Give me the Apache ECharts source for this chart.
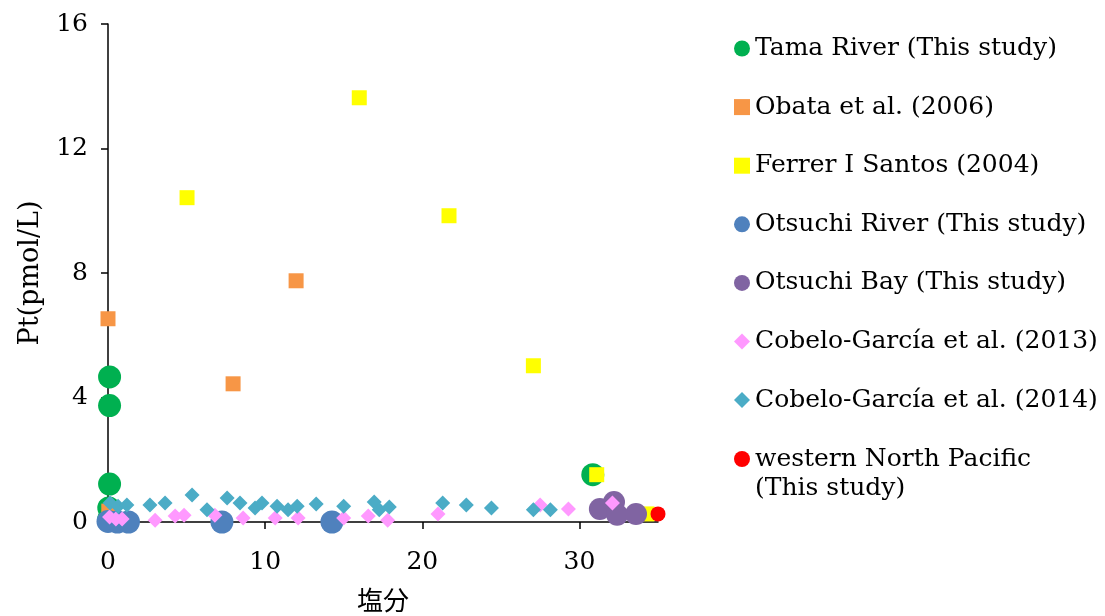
<!DOCTYPE html>
<html>
<head>
<meta charset="utf-8">
<script src="https://cdn.jsdelivr.net/npm/echarts@6/dist/echarts.min.js"></script>
<style>
  html, body { margin: 0; padding: 0; background: #fff; }
  #chart { width: 1105px; height: 616px; }
</style>
</head>
<body>
<div id="chart"></div>
<script>
// Dissolved platinum vs. salinity, [salinity, Pt (pmol/L)]
const tamaRiver = [[0.1, 4.66], [0.1, 3.74], [0.1, 1.22], [0.05, 0.45], [0.05, 0.1], [30.85, 1.52]];
const obata2006 = [[0.0, 6.53], [7.96, 4.44], [11.97, 7.75], [0.05, 0.35]];
const ferrer2004 = [[5.03, 10.42], [15.99, 13.63], [21.7, 9.84], [27.07, 5.02], [31.1, 1.52], [34.3, 0.26]];
const otsuchiRiver = [[0.0, 0.02], [0.6, 0.0], [1.3, 0.0], [7.25, 0.0], [14.25, 0.0]];
const otsuchiBay = [[31.3, 0.42], [32.2, 0.64], [32.4, 0.23], [33.6, 0.26]];
const cobelo2013 = [[0.1, 0.16], [0.5, 0.1], [0.9, 0.1], [3.0, 0.06], [4.27, 0.19], [4.84, 0.22],
  [6.8, 0.22], [8.6, 0.13], [10.64, 0.13], [12.1, 0.13], [15.0, 0.13], [16.56, 0.19], [17.8, 0.06],
  [21.0, 0.26], [27.5, 0.55], [29.3, 0.42], [32.1, 0.61]];
const cobelo2014 = [[0.13, 0.61], [0.64, 0.51], [1.2, 0.55], [2.67, 0.55], [3.63, 0.61], [5.35, 0.87],
  [6.3, 0.39], [7.58, 0.77], [8.4, 0.61], [9.36, 0.45], [9.8, 0.61], [10.76, 0.51], [11.46, 0.39],
  [12.04, 0.51], [13.25, 0.58], [15.0, 0.51], [16.94, 0.64], [17.26, 0.39], [17.9, 0.48],
  [21.3, 0.61], [22.8, 0.55], [24.4, 0.45], [27.07, 0.39], [28.15, 0.39]];
const westernNorthPacific = [[35.0, 0.26]];

const xTicks = [0, 10, 20, 30];
const yTicks = [0, 4, 8, 12, 16];

const SERIF = '"DejaVu Serif", "Noto Sans CJK JP", serif';
const LEGEND_FONT = 25;
const LEGEND_LINE = 29;

const seriesDefs = [
  { name: 'Tama River (This study)', data: tamaRiver, symbol: 'circle', size: 23, color: '#00B050' },
  { name: 'Obata et al. (2006)', data: obata2006, symbol: 'rect', size: 15, color: '#F79646' },
  { name: 'Ferrer I Santos (2004)', data: ferrer2004, symbol: 'rect', size: 15, color: '#FFFF00' },
  { name: 'Otsuchi River (This study)', data: otsuchiRiver, symbol: 'circle', size: 23, color: '#4F81BD' },
  { name: 'Otsuchi Bay (This study)', data: otsuchiBay, symbol: 'circle', size: 22, color: '#8064A2' },
  { name: 'Cobelo-García et al. (2013)', data: cobelo2013, symbol: 'diamond', size: 15, color: '#FF99FF' },
  { name: 'Cobelo-García et al. (2014)', data: cobelo2014, symbol: 'diamond', size: 15, color: '#4BACC6' },
  { name: 'western North Pacific (This study)', data: westernNorthPacific, symbol: 'circle', size: 15, color: '#FF0000' }
];
const lastDef = seriesDefs[seriesDefs.length - 1];

const chart = echarts.init(document.getElementById('chart'));

const axisCommon = {
  axisLine: { show: true, lineStyle: { color: '#000', width: 1.5 } },
  axisTick: { show: true, inside: false, length: 7, lineStyle: { color: '#000', width: 1.5 } },
  splitLine: { show: false },
  axisLabel: { color: '#000', fontFamily: SERIF, fontSize: 25 }
};

const legendText = { color: '#000', fontFamily: SERIF, fontSize: LEGEND_FONT, lineHeight: LEGEND_LINE };

chart.setOption({
  animation: false,
  backgroundColor: '#fff',
  grid: { left: 108, right: 447, top: 24, bottom: 94, containLabel: false, outerBoundsMode: 'none' },
  xAxis: Object.assign({}, axisCommon, {
    type: 'value', min: 0, max: 35, interval: 10,
    name: '塩分', nameLocation: 'middle', nameGap: 68,
    nameTextStyle: { color: '#000', fontFamily: SERIF, fontSize: 26 },
    axisTick: Object.assign({}, axisCommon.axisTick, { customValues: xTicks }),
    axisLabel: Object.assign({}, axisCommon.axisLabel, { margin: 28, customValues: xTicks })
  }),
  yAxis: Object.assign({}, axisCommon, {
    type: 'value', min: 0, max: 16, interval: 4,
    name: 'Pt(pmol/L)', nameLocation: 'middle', nameGap: 64,
    nameTextStyle: { color: '#000', fontFamily: SERIF, fontSize: 27 },
    axisTick: Object.assign({}, axisCommon.axisTick, { customValues: yTicks }),
    axisLabel: Object.assign({}, axisCommon.axisLabel, { margin: 20, customValues: yTicks })
  }),
  legend: [
    {
      orient: 'vertical', left: 734, top: 34, padding: 0,
      itemWidth: 16, itemHeight: 16, itemGap: 29.6,
      textStyle: legendText,
      data: seriesDefs.slice(0, -1).map(s => ({ name: s.name, icon: s.symbol }))
    },
    {
      // two-line entry; a blank first line keeps the icon level with "western North Pacific"
      orient: 'vertical', left: 734, top: 415.5, padding: 0,
      itemWidth: 16, itemHeight: 16,
      textStyle: Object.assign({}, legendText, {
        rich: { e: { fontSize: LEGEND_FONT, lineHeight: LEGEND_LINE, fontFamily: SERIF },
                t: { fontSize: LEGEND_FONT, lineHeight: LEGEND_LINE, fontFamily: SERIF, color: '#000' } }
      }),
      formatter: () => '{e| }\n{t|western North Pacific}\n{t|(This study)}',
      data: [{ name: lastDef.name, icon: lastDef.symbol }]
    }
  ],
  series: seriesDefs.map(s => ({
    type: 'scatter', name: s.name, data: s.data,
    symbol: s.symbol, symbolSize: s.size, clip: false,
    itemStyle: { color: s.color, opacity: 1 },
    emphasis: { disabled: true }
  }))
});
</script>
</body>
</html>
